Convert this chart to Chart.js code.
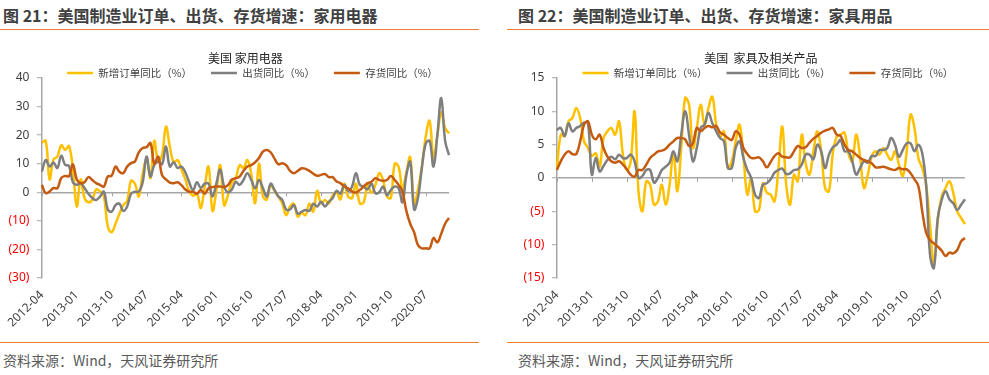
<!DOCTYPE html>
<html><head><meta charset="utf-8">
<script src="https://cdn.jsdelivr.net/npm/chart.js@4.4.1/dist/chart.umd.min.js"></script>
<style>
html,body{margin:0;padding:0;background:#fff;}
body{width:989px;height:375px;position:relative;overflow:hidden;font-family:"Noto Sans CJK SC","Noto Sans",sans-serif;}
.ttl{position:absolute;top:6px;font-weight:bold;font-size:16px;line-height:18px;color:#404040;white-space:nowrap;}
.rule{position:absolute;height:1px;background:#ED7D31;}
.src{position:absolute;top:352px;font-size:14px;line-height:16px;color:#595959;white-space:nowrap;}
canvas{position:absolute;}
</style></head>
<body>
<div class="ttl" style="left:3px">图 21：美国制造业订单、出货、存货增速：家用电器</div>
<div class="rule" style="left:0;width:479px;top:29px"></div>
<div class="ttl" style="left:518px">图 22：美国制造业订单、出货、存货增速：家具用品</div>
<div class="rule" style="left:507px;width:482px;top:29px"></div>
<canvas id="c1" width="489" height="308" style="left:0;top:30px"></canvas>
<canvas id="c2" width="474" height="308" style="left:515px;top:30px"></canvas>
<div class="rule" style="left:0;width:479px;top:342px"></div>
<div class="rule" style="left:507px;width:482px;top:342px"></div>
<div class="src" style="left:3px">资料来源：Wind，天风证券研究所</div>
<div class="src" style="left:518px">资料来源：Wind，天风证券研究所</div>
<script>
// ---- categories (monthly, 2012-04 .. 2021-01) ----
const categories = [];
for (let y = 2012, m = 4; categories.length < 106; m++) {
  if (m > 12) { m = 1; y++; }
  categories.push(y + '-' + String(m).padStart(2, '0'));
}
const xTickLabels = ['2012-04','2013-01','2013-10','2014-07','2015-04','2016-01','2016-10','2017-07','2018-04','2019-01','2019-10','2020-07'];
const seriesNames = ['新增订单同比（%）', '出货同比（%）', '存货同比（%）'];

// ---- 图21 家用电器 ----
const applianceOrders = [17.4,18,4.5,11.5,12.5,16.5,14.8,16.2,8,-5,4.5,-2,-3.5,-2.7,1,0.3,-1.5,-12,-14,-11,-7.5,-4.5,-3,4,3,-1.5,6.5,11.3,5,18,11,13,23,16,10.5,11.3,8,4.5,0.3,-1.2,-0.5,-5.5,2,9,-6.5,0.5,9.5,-4.5,-1,3.5,5,9.5,8.5,11.3,6.5,-3.8,10,-1.5,-2.5,2.5,0.5,-1.5,-3.9,-8,-5,-4,-8.5,-7.2,-8,-4,-6.8,0.5,-3.9,-2.7,-3.9,-1,0,-2.5,3,-1.5,-2,3,-3.9,-3.5,2.5,-0.2,2.5,6.7,4.2,-1.5,-2,10,9,1,7,12.3,-4,1,9,19.5,25,12,20,28,22.5,20.6];
const applianceShipments = [7.2,11.3,9,10.4,8.5,12.8,9.6,9.2,3.5,2.6,3.2,1.5,-0.5,-2,-2.7,-1.5,0.2,-6,-6.8,-4.5,-4,-6.5,-5,-0.5,0.2,0.2,3.5,12.5,5.5,9.6,10.7,9.8,16,9,10.5,8.5,9,7,3.5,0.8,3.5,1.5,3,3,-1.5,3,8,2,0,1,3.7,2.6,4.3,6.7,4.3,1.4,4.3,1.5,-1.5,3,0.8,-1.5,-2.7,-6,-6,-4.5,-7.5,-6.8,-6.2,-6.5,-4,-5,-3.3,-5,-3.3,-2,0.5,-0.5,2.6,0.5,2,6.7,2.6,2,1,3,-0.3,0,2,-1,0.8,2,1.4,-3.5,6,10.7,-6,-2,8.5,17,18,9,20,33,18,13];
const applianceInventory = [2.6,-0.3,0.3,1.5,1.4,5,5.7,5.7,9.8,4.5,3.2,3.5,5.3,4.3,3.2,2.6,2,5.5,5.8,9,7.2,6.7,9,10.2,10.8,14,15.5,15.8,17.2,10,12.5,6,4.5,3.4,3.2,3.5,2.5,1,0.2,0.2,-0.5,0.8,-0.5,1.4,1.8,2,2,1.8,2.5,4.5,4.9,5.5,7.5,9,9.5,10.5,12,14.2,14.8,14,11.8,9.8,10.2,9.5,7.5,6.7,7.5,8.4,8.2,7.5,6.5,5.8,6.1,6.4,5.3,5.3,3.8,3.2,2,1.4,0.3,-0.1,0.8,2,3.2,3.7,4.9,4.3,4,4.3,5.7,4.3,2.6,0.2,-6.5,-11,-14,-18.5,-19.6,-19.6,-19.6,-16,-17.5,-14.5,-11,-9];

// ---- 图22 家具及相关产品 ----
const furnitureOrders = [1.2,6.5,6.3,8.5,9,10.5,9,5.5,4.5,3.3,3.7,1.7,6,7,7.5,6.5,8.5,3.5,1.2,2.5,10,-2,-5,-0.5,-1,-4,-3.5,-1,-4,-1,3.7,-2,4.5,12,11,4.5,7.5,11,8,10.5,12.2,8,6.2,7,1.5,2.5,5.5,8,3.2,-2.5,0,-5,-4.8,-0.8,-2.2,-2.5,-3.5,1.5,7.7,-1,-4,0.5,-0.5,6.5,2.2,0.5,4,7,4,-1.5,-2,3.7,6.2,6.5,6.8,3.7,2.5,6.5,3.2,-1.5,0.5,3.2,4,3.5,4.5,3.5,2.7,4,2,0.3,4,9.5,7.5,3,1.5,-1,-7,-12.8,-6.3,-2.8,-1.5,-0.5,-2.3,-5,-6,-6.9];
const furnitureShipments = [7.2,7.5,6.3,8.2,7,7.5,7.8,8.3,8.2,0.5,3,1,1.8,2.7,3.2,2.8,3.5,3,3,3.5,2.5,0,0.3,1.2,1.2,-0.7,0,1.2,1.7,2.3,4,2.5,6.5,10,6.5,2.5,4.5,7.5,8,9.8,8.2,7,6,5.5,1.5,1.5,4.5,5.5,3,1.2,0,-2.5,-3,-1,-0.8,-0.2,0.8,1.2,1.4,0.6,0.7,1.2,1.3,2,3.5,3.5,2.8,5,4,1.5,3.5,4.6,5,5.7,4,4,2.5,0.5,1.5,2.5,2.3,3.3,3.3,4.2,4.2,4.5,6,5,3.2,4.2,5.2,5.2,4,5,3.7,-1,-11.5,-13.5,-6,-3.3,-2,-3.2,-3.8,-4.8,-4,-3.2];
const furnitureInventory = [1.2,2.5,3.5,4,3.6,3.6,5.5,8,8.5,6.5,5.8,6.5,4.5,3.2,2.5,2.3,2.5,2,1.3,0.5,0.2,1.2,1.2,2,3,3.5,4,4.1,4.4,5,5.5,6,6,5.8,4.8,5.2,7.5,7,7.5,7.8,7.6,7.8,6.8,6.5,6,5.7,7,6.5,4.5,3.6,3,3,3.1,2.5,1.6,2.4,3.3,3.7,3.2,3.1,3.1,4,4.8,4.5,4.6,5.3,5.9,6.3,6.8,7.1,7.3,7.5,6.5,6.3,5,4.2,4,3.5,3,2.7,2.5,2.2,1.6,1.6,1.7,1.5,1.3,1.2,1.5,1.3,1.3,0.7,-0.2,-1.2,-5,-8.2,-9.3,-9.8,-10.3,-10.9,-11.7,-11.2,-11.3,-10.8,-9.5,-9];

const seriesColors = ['#FFC000', '#7F7F7F', '#C55A11'];
const CJK = '"Noto Sans CJK SC", "Noto Sans", sans-serif';
const LATIN = '"Noto Sans", "Noto Sans CJK SC", sans-serif';

// legend: one row over the plot, taking no layout height, drawn unclipped
const legendTrim = {
  id: 'legendTrim',
  beforeUpdate(chart) {
    const lg = chart.legend;
    if (lg && !lg.__trimmed) {
      const fit = lg.fit;
      lg.fit = function () {
        const mw = this.maxWidth;
        this.maxWidth = mw + 120;
        fit.call(this);
        this.maxWidth = mw;
        this.height = 0;
      };
      lg.draw = function () {
        if (!this.options.display) return;
        const l = this.left, r = this.right;
        this.left = l - 46; this.right = r + 60;
        this._draw();
        this.left = l; this.right = r;
      };
      lg.__trimmed = true;
    }
  }
};
const zeroTicks = {
  id: 'zeroTicks',
  beforeDatasetsDraw(chart) {
    const {ctx, scales: {x, y}} = chart;
    const y0 = y.getPixelForValue(0);
    ctx.save();
    ctx.strokeStyle = '#A6A6A6';
    ctx.lineWidth = 1;
    ctx.beginPath();
    categories.forEach((c, i) => {
      if (xTickLabels.includes(c)) {
        const px = Math.round(x.getPixelForValue(i)) + 0.5;
        ctx.moveTo(px, y0);
        ctx.lineTo(px, y0 + 4);
      }
    });
    ctx.stroke();
    ctx.restore();
  }
};

function buildChart(id, titleText, series, yMin, yMax, yStep, padRight) {
  return new Chart(document.getElementById(id), {
    type: 'line',
    data: {
      labels: categories,
      datasets: series.map((d, k) => ({
        label: seriesNames[k], data: d,
        borderColor: seriesColors[k], backgroundColor: seriesColors[k],
        borderWidth: 2.5, pointRadius: 0, tension: 0.4, fill: false, order: 3 - k
      }))
    },
    options: {
      responsive: false, animation: false, devicePixelRatio: 1,
      layout: {padding: {left: 0, right: padRight, top: 18.75, bottom: 0}},
      plugins: {
        legend: {
          display: true, position: 'top', fullSize: false,
          labels: {
            usePointStyle: true, pointStyle: 'line', pointStyleWidth: 26,
            padding: 19, color: '#404040', font: {family: CJK, size: 10.5},
            sort: (a, b) => a.datasetIndex - b.datasetIndex
          }
        },
        title: {
          display: true, text: titleText, weight: 500, fullSize: false, color: '#262626',
          font: {family: CJK, size: 12, weight: 'normal', lineHeight: 1.2},
          padding: {top: 2.05, bottom: 12.8}
        },
        tooltip: {enabled: false}
      },
      scales: {
        x: {
          type: 'category', offset: false,
          grid: {display: false, drawTicks: false}, border: {display: false},
          ticks: {
            autoSkip: false, minRotation: 45, maxRotation: 45, padding: 10,
            color: '#404040', font: {family: LATIN, size: 12},
            callback: (v, i) => xTickLabels.includes(categories[i]) ? categories[i] : ''
          },
          afterFit: s => { s.height = 60; }
        },
        y: {
          min: yMin, max: yMax,
          ticks: {
            stepSize: yStep, padding: 7.5,
            color: c => c.tick.value < 0 ? '#FF0000' : '#404040',
            font: {family: LATIN, size: 12},
            callback: v => v < 0 ? '(' + (-v) + ')' : String(v)
          },
          grid: {
            color: c => c.tick.value === 0 ? '#A6A6A6' : 'rgba(0,0,0,0)',
            lineWidth: 1.5, tickLength: 5, tickColor: '#A6A6A6', tickWidth: 1
          },
          border: {display: true, color: '#A6A6A6', width: 1.5},
          afterFit: s => { s.width = 40; }
        }
      }
    },
    plugins: [legendTrim, zeroTicks]
  });
}

buildChart('c1', '美国 家用电器', [applianceOrders, applianceShipments, applianceInventory], -30, 40, 10, 40);
buildChart('c2', '美国  家具及相关产品', [furnitureOrders, furnitureShipments, furnitureInventory], -15, 15, 5, 24);
</script>
</body></html>
